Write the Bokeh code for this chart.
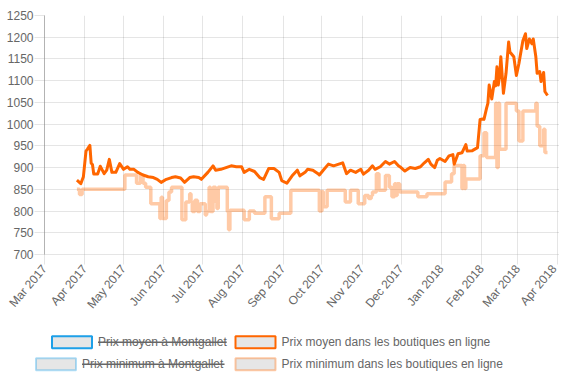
import pandas as pd
from bokeh.plotting import figure
from bokeh.models import Range1d, MonthsTicker, DatetimeTickFormatter, FixedTicker
from bokeh.layouts import column, row
from bokeh.embed import file_html
from bokeh.resources import INLINE
from bokeh.core.properties import value

# ---------------- data ----------------
mean_dates = [
    "2017-03-26", "2017-03-29", "2017-03-31",
    "2017-04-02", "2017-04-03", "2017-04-05", "2017-04-06", "2017-04-07", "2017-04-08", "2017-04-11",
    "2017-04-13", "2017-04-16", "2017-04-18", "2017-04-20", "2017-04-22", "2017-04-25", "2017-04-28",
    "2017-05-01", "2017-05-04", "2017-05-06", "2017-05-09", "2017-05-12", "2017-05-16", "2017-05-20",
    "2017-05-24", "2017-05-27", "2017-05-30",
    "2017-06-03", "2017-06-07", "2017-06-10", "2017-06-14", "2017-06-17", "2017-06-21", "2017-06-24",
    "2017-06-28", "2017-06-30",
    "2017-07-05", "2017-07-09", "2017-07-11", "2017-07-15", "2017-07-19", "2017-07-23", "2017-07-27",
    "2017-07-31",
    "2017-08-02", "2017-08-06", "2017-08-10", "2017-08-14", "2017-08-17", "2017-08-21", "2017-08-25",
    "2017-08-29", "2017-08-31",
    "2017-09-04", "2017-09-08", "2017-09-12", "2017-09-14", "2017-09-18", "2017-09-20", "2017-09-24",
    "2017-09-28", "2017-09-29",
    "2017-10-02", "2017-10-06", "2017-10-10", "2017-10-14", "2017-10-17", "2017-10-20", "2017-10-23",
    "2017-10-27", "2017-10-31",
    "2017-11-02", "2017-11-06", "2017-11-09", "2017-11-11", "2017-11-15", "2017-11-19", "2017-11-22",
    "2017-11-26", "2017-11-29",
    "2017-12-01", "2017-12-04", "2017-12-08", "2017-12-12", "2017-12-16", "2017-12-19", "2017-12-22",
    "2017-12-24", "2017-12-27", "2017-12-29", "2017-12-31",
    "2018-01-04", "2018-01-07", "2018-01-10", "2018-01-11", "2018-01-14", "2018-01-17", "2018-01-20",
    "2018-01-21", "2018-01-25", "2018-01-29", "2018-01-31",
    "2018-02-02", "2018-02-03", "2018-02-05", "2018-02-06", "2018-02-07", "2018-02-09", "2018-02-11",
    "2018-02-12", "2018-02-13", "2018-02-14", "2018-02-15", "2018-02-16", "2018-02-18", "2018-02-20",
    "2018-02-22", "2018-02-23", "2018-02-26", "2018-02-28",
    "2018-03-02", "2018-03-03", "2018-03-05", "2018-03-07", "2018-03-08", "2018-03-10", "2018-03-12",
    "2018-03-13", "2018-03-15", "2018-03-16", "2018-03-18", "2018-03-19", "2018-03-21", "2018-03-22",
    "2018-03-24",
]
mean_values = [
    871, 863, 879,
    938, 942, 951, 910, 907, 885, 885, 903, 886, 894, 919, 889, 889, 909,
    896, 902, 896, 896, 889, 883, 879, 877, 873, 866,
    873, 877, 879, 876, 866, 877, 879, 877, 873,
    889, 904, 894, 896, 900, 904, 902, 902,
    889, 896, 891, 877, 873, 898, 898, 889, 870,
    864, 881, 894, 881, 889, 896, 894, 886, 883,
    894, 908, 904, 908, 911, 886, 894, 889, 896,
    885, 894, 904, 896, 902, 914, 908, 914, 904,
    900, 892, 900, 898, 902, 911, 919, 908, 900, 917, 921,
    914, 927, 930, 908, 932, 934, 953, 938, 939, 946, 1011,
    1012, 1011, 1037, 1048, 1090, 1058, 1098, 1088, 1132, 1090, 1109, 1155, 1071, 1117, 1189, 1166, 1155, 1112,
    1140, 1158, 1192, 1208, 1174, 1196, 1185, 1196, 1155, 1117, 1121, 1098, 1119, 1075, 1066,
]

min_dates = [
    "2017-03-26", "2017-03-28", "2017-03-30", "2017-05-02", "2017-05-11", "2017-05-14", "2017-05-16",
    "2017-05-18", "2017-05-22", "2017-05-29", "2017-05-30", "2017-05-31", "2017-06-03", "2017-06-05",
    "2017-06-07", "2017-06-15", "2017-06-18", "2017-06-21", "2017-06-22", "2017-06-23", "2017-06-25",
    "2017-06-27", "2017-06-29", "2017-07-03", "2017-07-04", "2017-07-06", "2017-07-07", "2017-07-09",
    "2017-07-11", "2017-07-12", "2017-07-13", "2017-07-20", "2017-07-21", "2017-07-22", "2017-08-02",
    "2017-08-06", "2017-08-10", "2017-08-18", "2017-08-23", "2017-08-29", "2017-09-07", "2017-09-29",
    "2017-10-01", "2017-10-02", "2017-10-05", "2017-10-19", "2017-10-23", "2017-10-29", "2017-11-03",
    "2017-11-06", "2017-11-08", "2017-11-09", "2017-11-12", "2017-11-14", "2017-11-19", "2017-11-22",
    "2017-11-24", "2017-11-26", "2017-11-27", "2017-11-28", "2017-11-30", "2017-12-14", "2017-12-21",
    "2018-01-04", "2018-01-09", "2018-01-11", "2018-01-17", "2018-01-18", "2018-01-19", "2018-01-20",
    "2018-01-31", "2018-02-03", "2018-02-05", "2018-02-12", "2018-02-13", "2018-02-14", "2018-02-15",
    "2018-02-20", "2018-02-28", "2018-03-02", "2018-03-05", "2018-03-15", "2018-03-16", "2018-03-18",
    "2018-03-21", "2018-03-22", "2018-03-24",
]
min_values = [
    850, 838, 850, 883, 864, 883, 864,
    855, 817, 783, 832, 783, 824, 844,
    855, 780, 821, 840, 821, 799, 825,
    799, 817, 791, 799, 855, 799, 855,
    821, 806, 855, 799, 757, 802, 780,
    800, 795, 833, 782, 795, 848, 800,
    845, 810, 848, 821, 848, 817, 836,
    829, 836, 844, 886, 848, 882, 855,
    833, 863, 836, 863, 844, 833, 840,
    867, 886, 905, 852, 905, 852, 874,
    927, 980, 923, 1048, 900, 1048, 942,
    1048, 1030, 961, 1030, 1048, 995, 950,
    988, 935, 935,
]

y_ticks = list(range(700, 1251, 50))

legend_labels = [
    "Prix moyen à Montgallet",
    "Prix moyen dans les boutiques en ligne",
    "Prix minimum à Montgallet",
    "Prix minimum dans les boutiques en ligne",
]
legend_hidden = [True, False, True, False]

# ---------------- styles ----------------
FONT = "Liberation Sans"
TXT = "#666666"
GRID = "rgba(0,0,0,0.1)"
ORANGE = "#ff6600"
ORANGE_LIGHT = "rgba(255,102,0,0.35)"
BLUE = "#1ea0e8"
BLUE_LIGHT = "rgba(30,160,232,0.35)"

x0 = pd.Timestamp("2017-03-01")
x1 = pd.Timestamp("2018-04-02 06:00")

p = figure(width=559, height=318, output_backend="svg", toolbar_location=None,
           x_axis_type="datetime",
           x_range=Range1d(x0, x1), y_range=Range1d(700, 1250),
           min_border_left=44, min_border_right=0, min_border_top=15, min_border_bottom=61)
p.outline_line_color = None
p.background_fill_color = "white"
p.border_fill_color = "white"

p.step(pd.to_datetime(min_dates), min_values, mode="after",
       line_color=ORANGE_LIGHT, line_width=3.5)
p.line(pd.to_datetime(mean_dates), mean_values, line_color=ORANGE, line_width=3,
       line_join="round")

p.xaxis.ticker = MonthsTicker(months=list(range(12)))
fmt = "%b %Y"
p.xaxis.formatter = DatetimeTickFormatter(months=fmt, days=fmt, years=fmt, hours=fmt,
                                          minutes=fmt, seconds=fmt, milliseconds=fmt,
                                          microseconds=fmt, minsec=fmt, hourmin=fmt)
p.xaxis.major_label_orientation = 0.87
p.yaxis.ticker = FixedTicker(ticks=y_ticks)

for ax in (p.xaxis[0], p.yaxis[0]):
    ax.major_label_text_font = FONT
    ax.major_label_text_font_size = "12px"
    ax.major_label_text_color = TXT
    ax.major_tick_in = 0
    ax.major_tick_out = 10
    ax.major_tick_line_color = GRID
    ax.minor_tick_line_color = None
    ax.major_label_standoff = 2
p.yaxis.major_label_standoff = 1
p.xaxis.axis_line_color = GRID
p.yaxis.axis_line_color = "#b3b3b3"

p.xgrid.grid_line_color = GRID
p.ygrid.grid_line_color = GRID

# ---------------- legend (separate strip, page coordinates) ----------------
lg = figure(width=559, height=62, output_backend="svg", toolbar_location=None,
            x_range=Range1d(0, 559), y_range=Range1d(380, 318),
            x_axis_location=None, y_axis_location=None,
            min_border=0, min_border_left=0, min_border_right=0,
            min_border_top=0, min_border_bottom=0)
lg.grid.visible = False
lg.outline_line_color = None

box_x = [71.5, 255.0, 55.5, 255.0]
box_y = [341.7, 341.7, 363.7, 363.7]
box_colors = [BLUE, ORANGE, BLUE_LIGHT, ORANGE_LIGHT]
text_x = [97.5, 281.0, 81.5, 281.0]
text_w = [128.7, 214.0, 142.5, 229.0]

lg.rect(box_x, box_y, width=40, height=12, fill_color="#e6e6e6",
        line_color=box_colors, line_width=2)
lg.text(text_x, box_y, text=legend_labels, text_font=value(FONT),
        text_font_size="12px", text_color=TXT, text_baseline="middle", text_align="left")
sx0 = [tx for tx, h in zip(text_x, legend_hidden) if h]
sx1 = [tx + w for tx, w, h in zip(text_x, text_w, legend_hidden) if h]
sy = [yy for yy, h in zip(box_y, legend_hidden) if h]
lg.segment(sx0, sy, sx1, sy, line_color=TXT, line_width=1.5)

layout = column(p, row(lg, spacing=0), spacing=0)
open("out.html", "w").write(file_html(layout, INLINE))
